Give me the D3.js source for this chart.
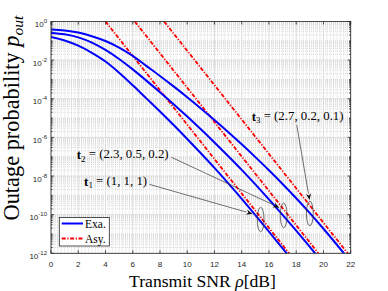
<!DOCTYPE html>
<html><head><meta charset="utf-8">
<script src="https://cdn.jsdelivr.net/npm/d3@7"></script>
<style>html,body{margin:0;padding:0;background:#fff;}svg{display:block}</style>
</head><body>
<svg id="chart" width="388" height="291"></svg>
<script>
// ---------------- data (log10 of outage probability) ----------------
const snrT1 = [0,1,2,3,4,5,6,7,8,9,10,11,12,13,14,15,16,17,18];
const exaT1 = [-0.8,-0.98,-1.25,-1.62,-2.07,-2.65,-3.3,-3.98,-4.66,-5.36,-6.08,-6.82,-7.58,-8.37,-9.18,-10.02,-10.88,-11.74,-12.61];
const snrT2 = [0,1,2,3,4,5,6,7,8,9,10,11,12,13,14,15,16,17,18,19,20];
const exaT2 = [-0.59,-0.66,-0.82,-1.09,-1.47,-1.94,-2.48,-3.06,-3.66,-4.28,-4.92,-5.58,-6.26,-6.96,-7.68,-8.43,-9.21,-10.01,-10.83,-11.67,-12.53];
const snrT3 = [0,1,2,3,4,5,6,7,8,9,10,11,12,13,14,15,16,17,18,19,20,21,22];
const exaT3 = [-0.41,-0.46,-0.57,-0.76,-1.01,-1.35,-1.78,-2.3,-2.82,-3.36,-3.92,-4.5,-5.1,-5.72,-6.36,-7.02,-7.7,-8.41,-9.15,-9.92,-10.73,-11.57,-12.43];
// asymptotes: two end points each [snr, log10 P]
const asyT1 = [[4.0,0],[17.48,-12]];
const asyT2 = [[6.15,0],[19.63,-12]];
const asyT3 = [[8.3,0],[21.78,-12]];
const xTicks = [0,2,4,6,8,10,12,14,16,18,20,22];
const yTickExps = [0,-2,-4,-6,-8,-10,-12];
const legendLabels = ["Exa.","Asy."];
const annoNames = ["1","2","3"];
const annoValues = ["(1, 1, 1)","(2.3, 0.5, 0.2)","(2.7, 0.2, 0.1)"];
const annoLabelPos = [[2.43,-8.51],[1.89,-7.14],[14.73,-5.15]];
const annoArrowFrom = [[7.22,-8.43],[8.84,-7.03],[18.04,-5.36]];
const annoArrowTo = [[14.8,-9.96],[16.77,-9.64],[18.98,-9.24]];
const annoEllipse = [[15.39,-10.25],[17.08,-10.04],[19.0,-9.94]];

// ---------------- layout ----------------
const M = {left:51, right:350.7, top:21.5, bottom:253.3};
const svg = d3.select("#chart");
const x = d3.scaleLinear().domain([0,22]).range([M.left,M.right]);
const y = d3.scaleLog().domain([1e-12,1]).range([M.bottom,M.top]);
const yl = v => y(Math.pow(10,v));
const axisCol = "#262626";
const serif = "'Liberation Serif','Times New Roman',serif";
const sans = "'Liberation Sans',Arial,sans-serif";

// grid
const g = svg.append("g");
const xMinor = d3.range(0,22.0001,0.25).filter(v => Math.abs(v/2-Math.round(v/2))>1e-6);
const yMinor = [];
for (let n=-12;n<0;n++) for (let k=1;k<10;k++){ const v=k*Math.pow(10,n); if(!(k===1 && n%2===0)) yMinor.push(v); }
g.selectAll(".xm").data(xMinor).enter().append("line")
  .attr("x1",d=>x(d)).attr("x2",d=>x(d)).attr("y1",M.top).attr("y2",M.bottom)
  .attr("stroke","#c4c4c4").attr("stroke-width",0.6).attr("stroke-dasharray","1,1");
g.selectAll(".ym").data(yMinor).enter().append("line")
  .attr("y1",d=>y(d)).attr("y2",d=>y(d)).attr("x1",M.left).attr("x2",M.right)
  .attr("stroke","#c4c4c4").attr("stroke-width",0.6).attr("stroke-dasharray","1,1");
g.selectAll(".xM").data(xTicks).enter().append("line")
  .attr("x1",d=>x(d)).attr("x2",d=>x(d)).attr("y1",M.top).attr("y2",M.bottom)
  .attr("stroke","#dcdcdc").attr("stroke-width",1);
g.selectAll(".yM").data(yTickExps).enter().append("line")
  .attr("y1",d=>yl(d)).attr("y2",d=>yl(d)).attr("x1",M.left).attr("x2",M.right)
  .attr("stroke","#dcdcdc").attr("stroke-width",1);

// clip
svg.append("clipPath").attr("id","clip").append("rect")
  .attr("x",M.left).attr("y",M.top).attr("width",M.right-M.left).attr("height",M.bottom-M.top);
const plot = svg.append("g").attr("clip-path","url(#clip)");

const line = d3.line().x(d=>x(d[0])).y(d=>yl(d[1])).curve(d3.curveMonotoneX);
const asyLine = d3.line().x(d=>x(d[0])).y(d=>yl(d[1]));
const redDash = "4,1.6,1.2,1.6";
[asyT1,asyT2,asyT3].forEach(a=>{
  plot.append("path").attr("d",asyLine(a)).attr("fill","none")
    .attr("stroke","#ff0000").attr("stroke-width",1.8).attr("stroke-dasharray",redDash);
});
[[snrT1,exaT1],[snrT2,exaT2],[snrT3,exaT3]].forEach(([s,v])=>{
  plot.append("path").attr("d",line(s.map((d,i)=>[d,v[i]]))).attr("fill","none")
    .attr("stroke","#0000ff").attr("stroke-width",2);
});

// axes box and ticks
const ax = svg.append("g").attr("stroke",axisCol).attr("stroke-width",0.8);
ax.append("rect").attr("x",M.left).attr("y",M.top).attr("width",M.right-M.left).attr("height",M.bottom-M.top).attr("fill","none");
xTicks.forEach(t=>{
  ax.append("line").attr("x1",x(t)).attr("x2",x(t)).attr("y1",M.bottom).attr("y2",M.bottom-3);
  ax.append("line").attr("x1",x(t)).attr("x2",x(t)).attr("y1",M.top).attr("y2",M.top+3);
});
yTickExps.forEach(t=>{
  ax.append("line").attr("y1",yl(t)).attr("y2",yl(t)).attr("x1",M.left).attr("x2",M.left+3);
  ax.append("line").attr("y1",yl(t)).attr("y2",yl(t)).attr("x1",M.right).attr("x2",M.right-3);
});
yMinor.forEach(v=>{
  ax.append("line").attr("y1",y(v)).attr("y2",y(v)).attr("x1",M.left).attr("x2",M.left+1.6);
  ax.append("line").attr("y1",y(v)).attr("y2",y(v)).attr("x1",M.right).attr("x2",M.right-1.6);
});

// tick labels
svg.selectAll(".xl").data(xTicks).enter().append("text")
  .attr("x",d=>x(d)).attr("y",M.bottom+13.5).attr("text-anchor","middle")
  .attr("font-family",sans).attr("font-size",8).attr("fill",axisCol).text(d=>d);
yTickExps.forEach(t=>{
  const tx = svg.append("text").attr("x",47).attr("y",yl(t)+5.5).attr("text-anchor","end")
    .attr("font-family",sans).attr("font-size",8).attr("fill",axisCol);
  tx.append("tspan").text("10");
  tx.append("tspan").attr("dy",-4).attr("font-size",6).text(t===0?"0":"-"+(-t));
});

// fit helper
function fit(sel,target){
  const len = sel.node().getComputedTextLength();
  const fs = parseFloat(sel.attr("font-size"));
  sel.attr("font-size",fs*target/len);
}

// axis titles
const xt = svg.append("text").attr("x",202.5).attr("y",286.5).attr("text-anchor","middle")
  .attr("font-family",serif).attr("font-size",16).attr("fill","#000");
xt.append("tspan").text("Transmit SNR ");
xt.append("tspan").attr("font-style","italic").text("ρ");
xt.append("tspan").text("[dB]");
fit(xt,147);

const yt = svg.append("text").attr("transform","translate(18.5,118) rotate(-90)").attr("text-anchor","middle")
  .attr("font-family",serif).attr("font-size",18).attr("fill","#000");
yt.append("tspan").text("Outage probability ");
yt.append("tspan").attr("font-style","italic").text("p");
yt.append("tspan").attr("font-style","italic").attr("dy","0.3em").style("font-size","70%").text("out");
fit(yt,205);

// annotations
const an = svg.append("g");
annoEllipse.forEach(e=>{
  an.append("ellipse").attr("cx",x(e[0])).attr("cy",yl(e[1])).attr("rx",3.4).attr("ry",12.3)
    .attr("fill","none").attr("stroke","#333").attr("stroke-width",0.7);
});
annoArrowFrom.forEach((f,i)=>{
  const x1=x(f[0]),y1=yl(f[1]),x2=x(annoArrowTo[i][0]),y2=yl(annoArrowTo[i][1]);
  const ang=Math.atan2(y2-y1,x2-x1), L=6.5, Wd=2.6;
  const bx=x2-L*Math.cos(ang), by=y2-L*Math.sin(ang);
  an.append("line").attr("x1",x1).attr("y1",y1).attr("x2",bx).attr("y2",by)
    .attr("stroke","#333").attr("stroke-width",0.7);
  const px=-Math.sin(ang), py=Math.cos(ang);
  const bx2=x2-L*0.7*Math.cos(ang), by2=y2-L*0.7*Math.sin(ang);
  an.append("path").attr("d",`M${x2},${y2}L${bx+px*Wd},${by+py*Wd}L${bx2},${by2}L${bx-px*Wd},${by-py*Wd}Z`)
    .attr("fill","#111");
});
const labels=[];
annoLabelPos.forEach((p,i)=>{
  const t = svg.append("text").attr("x",x(p[0])).attr("y",yl(p[1]))
    .attr("font-family",serif).attr("font-size",12.5).attr("fill","#000");
  t.append("tspan").attr("font-weight","bold").text("t");
  t.append("tspan").attr("dy","0.25em").style("font-size","70%").text(annoNames[i]);
  t.append("tspan").attr("dy","-0.25em").text(" = "+annoValues[i]);
  labels.push(t);
});
{
  const len = labels[1].node().getComputedTextLength();
  const k = 92/len;
  labels.forEach(t=>t.attr("font-size",12.5*k));
}

// legend
const lg = svg.append("g");
lg.append("rect").attr("x",59.3).attr("y",217.5).attr("width",50).attr("height",28.5)
  .attr("fill","#fff").attr("stroke",axisCol).attr("stroke-width",0.8);
const lgRows=[223.5,238.5];
legendLabels.forEach((lab,i)=>{
  lg.append("line").attr("x1",61.7).attr("x2",83).attr("y1",lgRows[i]).attr("y2",lgRows[i])
    .attr("stroke",i===0?"#0000ff":"#ff0000").attr("stroke-width",i===0?2:1.8)
    .attr("stroke-dasharray",i===0?null:redDash);
  lg.append("text").attr("x",85).attr("y",lgRows[i]+4).attr("font-family",serif)
    .attr("font-size",11.5).attr("fill","#000").text(lab);
});
</script>
</body></html>
